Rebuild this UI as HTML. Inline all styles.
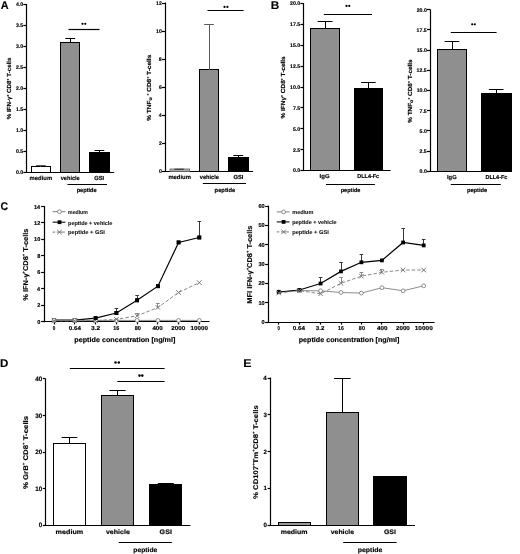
<!DOCTYPE html>
<html><head><meta charset="utf-8"><style>
html,body{margin:0;padding:0;background:#fff;}
svg{display:block;font-family:"Liberation Sans",sans-serif;text-rendering:geometricPrecision;filter:grayscale(1) blur(0.45px);}
text{stroke:#000;stroke-width:0.15px;}
.lg{stroke:#222;stroke-width:0.12px;}
</style></head><body>
<svg width="520" height="554" viewBox="0 0 520 554">
<rect x="0" y="0" width="520" height="554" fill="#fff"/>
<text x="0.83" y="8.80" font-size="11.2" font-weight="bold" fill="#000" textLength="7.87" lengthAdjust="spacingAndGlyphs">A</text>
<line x1="26.50" y1="4.00" x2="26.50" y2="172.50" stroke="#000" stroke-width="1.2" />
<line x1="23.30" y1="172.50" x2="26.50" y2="172.50" stroke="#000" stroke-width="1.2" />
<text x="15.98" y="173.86" font-size="5.2" font-weight="bold" fill="#000" textLength="7.23" lengthAdjust="spacingAndGlyphs">0.0</text>
<line x1="23.30" y1="151.50" x2="26.50" y2="151.50" stroke="#000" stroke-width="1.2" />
<text x="15.90" y="152.92" font-size="5.2" font-weight="bold" fill="#000" textLength="7.23" lengthAdjust="spacingAndGlyphs">0.5</text>
<line x1="23.30" y1="130.50" x2="26.50" y2="130.50" stroke="#000" stroke-width="1.2" />
<text x="15.98" y="131.99" font-size="5.2" font-weight="bold" fill="#000" textLength="7.23" lengthAdjust="spacingAndGlyphs">1.0</text>
<line x1="23.30" y1="109.50" x2="26.50" y2="109.50" stroke="#000" stroke-width="1.2" />
<text x="15.90" y="111.05" font-size="5.2" font-weight="bold" fill="#000" textLength="7.23" lengthAdjust="spacingAndGlyphs">1.5</text>
<line x1="23.30" y1="88.50" x2="26.50" y2="88.50" stroke="#000" stroke-width="1.2" />
<text x="15.98" y="90.11" font-size="5.2" font-weight="bold" fill="#000" textLength="7.23" lengthAdjust="spacingAndGlyphs">2.0</text>
<line x1="23.30" y1="67.50" x2="26.50" y2="67.50" stroke="#000" stroke-width="1.2" />
<text x="15.90" y="69.17" font-size="5.2" font-weight="bold" fill="#000" textLength="7.23" lengthAdjust="spacingAndGlyphs">2.5</text>
<line x1="23.30" y1="46.50" x2="26.50" y2="46.50" stroke="#000" stroke-width="1.2" />
<text x="15.98" y="48.24" font-size="5.2" font-weight="bold" fill="#000" textLength="7.23" lengthAdjust="spacingAndGlyphs">3.0</text>
<line x1="23.30" y1="25.50" x2="26.50" y2="25.50" stroke="#000" stroke-width="1.2" />
<text x="15.90" y="27.30" font-size="5.2" font-weight="bold" fill="#000" textLength="7.23" lengthAdjust="spacingAndGlyphs">3.5</text>
<line x1="23.30" y1="4.50" x2="26.50" y2="4.50" stroke="#000" stroke-width="1.2" />
<text x="15.98" y="6.36" font-size="5.2" font-weight="bold" fill="#000" textLength="7.23" lengthAdjust="spacingAndGlyphs">4.0</text>
<line x1="24.10" y1="172.50" x2="114.20" y2="172.50" stroke="#000" stroke-width="1.2" />
<rect x="31.50" y="166.50" width="19.00" height="6.00" fill="#fff" stroke="#000" stroke-width="1.0"/>
<line x1="40.50" y1="165.00" x2="40.50" y2="166.80" stroke="#555" stroke-width="1.0" />
<line x1="36.15" y1="165.50" x2="45.65" y2="165.50" stroke="#555" stroke-width="1.0" />
<rect x="60.50" y="42.50" width="19.00" height="130.00" fill="#8f8f8f" stroke="#000" stroke-width="1.0"/>
<line x1="70.50" y1="38.20" x2="70.50" y2="42.40" stroke="#000" stroke-width="1.0" />
<line x1="65.30" y1="38.50" x2="75.10" y2="38.50" stroke="#000" stroke-width="1.0" />
<rect x="89.50" y="152.50" width="20.00" height="20.00" fill="#000" stroke="#000" stroke-width="1.0"/>
<line x1="99.50" y1="150.00" x2="99.50" y2="152.40" stroke="#000" stroke-width="1.0" />
<line x1="94.50" y1="150.50" x2="104.30" y2="150.50" stroke="#000" stroke-width="1.0" />
<line x1="68.50" y1="29.50" x2="99.50" y2="29.50" stroke="#000" stroke-width="1.2" />
<ellipse cx="82.50" cy="23.80" rx="1.10" ry="1.16" fill="#000"/>
<ellipse cx="85.30" cy="23.80" rx="1.10" ry="1.16" fill="#000"/>
<text x="29.62" y="179.60" font-size="5.9" font-weight="bold" fill="#000" textLength="22.56" lengthAdjust="spacingAndGlyphs">medium</text>
<text x="60.77" y="179.60" font-size="5.9" font-weight="bold" fill="#000" textLength="18.93" lengthAdjust="spacingAndGlyphs">vehicle</text>
<text x="94.27" y="179.60" font-size="5.9" font-weight="bold" fill="#000" textLength="9.92" lengthAdjust="spacingAndGlyphs">GSI</text>
<line x1="67.50" y1="184.50" x2="107.00" y2="184.50" stroke="#000" stroke-width="1.2" />
<text x="76.63" y="191.60" font-size="5.9" font-weight="bold" fill="#000" textLength="20.07" lengthAdjust="spacingAndGlyphs">peptide</text>
<text x="0" y="0" font-size="5.9" text-anchor="middle" font-weight="bold" textLength="61.90" lengthAdjust="spacingAndGlyphs" transform="translate(11.20,88.40) rotate(-90)">% IFN-γ<tspan baseline-shift="2.48" font-size="3.25">+</tspan> CD8<tspan baseline-shift="2.48" font-size="3.25">+</tspan> T-cells</text>
<line x1="165.50" y1="2.60" x2="165.50" y2="171.80" stroke="#000" stroke-width="1.2" />
<line x1="162.00" y1="171.50" x2="165.00" y2="171.50" stroke="#000" stroke-width="1.2" />
<text x="158.92" y="173.16" font-size="5.2" font-weight="bold" fill="#000" textLength="2.89" lengthAdjust="spacingAndGlyphs">0</text>
<line x1="162.00" y1="143.50" x2="165.00" y2="143.50" stroke="#000" stroke-width="1.2" />
<text x="158.92" y="145.13" font-size="5.2" font-weight="bold" fill="#000" textLength="2.89" lengthAdjust="spacingAndGlyphs">2</text>
<line x1="162.00" y1="115.50" x2="165.00" y2="115.50" stroke="#000" stroke-width="1.2" />
<text x="158.74" y="117.09" font-size="5.2" font-weight="bold" fill="#000" textLength="2.89" lengthAdjust="spacingAndGlyphs">4</text>
<line x1="162.00" y1="87.50" x2="165.00" y2="87.50" stroke="#000" stroke-width="1.2" />
<text x="158.90" y="89.06" font-size="5.2" font-weight="bold" fill="#000" textLength="2.89" lengthAdjust="spacingAndGlyphs">6</text>
<line x1="162.00" y1="59.50" x2="165.00" y2="59.50" stroke="#000" stroke-width="1.2" />
<text x="158.87" y="61.03" font-size="5.2" font-weight="bold" fill="#000" textLength="2.89" lengthAdjust="spacingAndGlyphs">8</text>
<line x1="162.00" y1="31.50" x2="165.00" y2="31.50" stroke="#000" stroke-width="1.2" />
<text x="156.04" y="32.99" font-size="5.2" font-weight="bold" fill="#000" textLength="5.78" lengthAdjust="spacingAndGlyphs">10</text>
<line x1="162.00" y1="3.50" x2="165.00" y2="3.50" stroke="#000" stroke-width="1.2" />
<text x="156.04" y="4.96" font-size="5.2" font-weight="bold" fill="#000" textLength="5.78" lengthAdjust="spacingAndGlyphs">12</text>
<line x1="162.60" y1="171.50" x2="253.10" y2="171.50" stroke="#000" stroke-width="1.2" />
<rect x="170.0" y="169.0" width="19.6" height="2.6" fill="#aaa" stroke="#666" stroke-width="0.8"/>
<line x1="174.6" y1="169.2" x2="183.8" y2="169.2" stroke="#222" stroke-width="1"/>
<rect x="199.50" y="69.50" width="19.00" height="102.00" fill="#8f8f8f" stroke="#000" stroke-width="1.0"/>
<line x1="209.50" y1="24.90" x2="209.50" y2="69.80" stroke="#5a5a5a" stroke-width="1.0" />
<line x1="204.20" y1="24.50" x2="213.80" y2="24.50" stroke="#5a5a5a" stroke-width="1.0" />
<rect x="228.50" y="157.50" width="20.00" height="14.00" fill="#000" stroke="#000" stroke-width="1.0"/>
<line x1="238.50" y1="155.70" x2="238.50" y2="157.90" stroke="#000" stroke-width="1.0" />
<line x1="233.40" y1="155.50" x2="243.20" y2="155.50" stroke="#000" stroke-width="1.0" />
<line x1="207.50" y1="10.50" x2="243.60" y2="10.50" stroke="#000" stroke-width="1.2" />
<ellipse cx="224.50" cy="6.90" rx="1.10" ry="1.16" fill="#000"/>
<ellipse cx="227.40" cy="6.90" rx="1.10" ry="1.16" fill="#000"/>
<text x="168.42" y="179.30" font-size="5.9" font-weight="bold" fill="#000" textLength="22.46" lengthAdjust="spacingAndGlyphs">medium</text>
<text x="199.77" y="179.30" font-size="5.9" font-weight="bold" fill="#000" textLength="19.13" lengthAdjust="spacingAndGlyphs">vehicle</text>
<text x="233.47" y="179.30" font-size="5.9" font-weight="bold" fill="#000" textLength="10.03" lengthAdjust="spacingAndGlyphs">GSI</text>
<line x1="202.80" y1="183.50" x2="246.00" y2="183.50" stroke="#000" stroke-width="1.2" />
<text x="214.62" y="191.50" font-size="5.9" font-weight="bold" fill="#000" textLength="20.58" lengthAdjust="spacingAndGlyphs">peptide</text>
<text x="0" y="0" font-size="5.9" text-anchor="middle" font-weight="bold" textLength="66.00" lengthAdjust="spacingAndGlyphs" transform="translate(151.20,87.75) rotate(-90)">% TNF<tspan font-size="4.72" baseline-shift="-0.8">α</tspan> <tspan baseline-shift="2.48" font-size="3.25">+</tspan> CD8<tspan baseline-shift="2.48" font-size="3.25">+</tspan> T-cells</text>
<text x="270.73" y="8.90" font-size="11.2" font-weight="bold" fill="#000" textLength="8.52" lengthAdjust="spacingAndGlyphs">B</text>
<line x1="303.50" y1="3.00" x2="303.50" y2="171.10" stroke="#000" stroke-width="1.2" />
<line x1="300.40" y1="170.50" x2="303.40" y2="170.50" stroke="#000" stroke-width="1.2" />
<text x="292.98" y="172.46" font-size="5.2" font-weight="bold" fill="#000" textLength="7.23" lengthAdjust="spacingAndGlyphs">0.0</text>
<line x1="300.40" y1="149.50" x2="303.40" y2="149.50" stroke="#000" stroke-width="1.2" />
<text x="292.90" y="151.57" font-size="5.2" font-weight="bold" fill="#000" textLength="7.23" lengthAdjust="spacingAndGlyphs">2.5</text>
<line x1="300.40" y1="128.50" x2="303.40" y2="128.50" stroke="#000" stroke-width="1.2" />
<text x="292.98" y="130.69" font-size="5.2" font-weight="bold" fill="#000" textLength="7.23" lengthAdjust="spacingAndGlyphs">5.0</text>
<line x1="300.40" y1="107.50" x2="303.40" y2="107.50" stroke="#000" stroke-width="1.2" />
<text x="292.90" y="109.80" font-size="5.2" font-weight="bold" fill="#000" textLength="7.23" lengthAdjust="spacingAndGlyphs">7.5</text>
<line x1="300.40" y1="87.50" x2="303.40" y2="87.50" stroke="#000" stroke-width="1.2" />
<text x="290.09" y="88.91" font-size="5.2" font-weight="bold" fill="#000" textLength="10.12" lengthAdjust="spacingAndGlyphs">10.0</text>
<line x1="300.40" y1="66.50" x2="303.40" y2="66.50" stroke="#000" stroke-width="1.2" />
<text x="290.02" y="68.02" font-size="5.2" font-weight="bold" fill="#000" textLength="10.12" lengthAdjust="spacingAndGlyphs">12.5</text>
<line x1="300.40" y1="45.50" x2="303.40" y2="45.50" stroke="#000" stroke-width="1.2" />
<text x="290.09" y="47.14" font-size="5.2" font-weight="bold" fill="#000" textLength="10.12" lengthAdjust="spacingAndGlyphs">15.0</text>
<line x1="300.40" y1="24.50" x2="303.40" y2="24.50" stroke="#000" stroke-width="1.2" />
<text x="290.02" y="26.25" font-size="5.2" font-weight="bold" fill="#000" textLength="10.12" lengthAdjust="spacingAndGlyphs">17.5</text>
<line x1="300.40" y1="3.50" x2="303.40" y2="3.50" stroke="#000" stroke-width="1.2" />
<text x="290.09" y="5.36" font-size="5.2" font-weight="bold" fill="#000" textLength="10.12" lengthAdjust="spacingAndGlyphs">20.0</text>
<line x1="301.20" y1="170.50" x2="390.60" y2="170.50" stroke="#000" stroke-width="1.2" />
<rect x="310.50" y="28.50" width="29.00" height="142.00" fill="#8f8f8f" stroke="#000" stroke-width="1.0"/>
<line x1="325.50" y1="21.30" x2="325.50" y2="28.40" stroke="#000" stroke-width="1.0" />
<line x1="317.70" y1="21.50" x2="332.50" y2="21.50" stroke="#000" stroke-width="1.0" />
<rect x="354.50" y="88.50" width="28.00" height="82.00" fill="#000" stroke="#000" stroke-width="1.0"/>
<line x1="368.50" y1="82.20" x2="368.50" y2="88.40" stroke="#000" stroke-width="1.0" />
<line x1="361.10" y1="82.50" x2="375.70" y2="82.50" stroke="#000" stroke-width="1.0" />
<line x1="323.80" y1="14.50" x2="372.00" y2="14.50" stroke="#000" stroke-width="1.2" />
<ellipse cx="346.50" cy="5.90" rx="1.10" ry="1.16" fill="#000"/>
<ellipse cx="349.25" cy="5.90" rx="1.10" ry="1.16" fill="#000"/>
<text x="319.61" y="178.40" font-size="5.8" font-weight="bold" fill="#000" textLength="9.96" lengthAdjust="spacingAndGlyphs">IgG</text>
<text x="357.35" y="178.40" font-size="5.8" font-weight="bold" fill="#000" textLength="21.82" lengthAdjust="spacingAndGlyphs">DLL4-Fc</text>
<line x1="326.00" y1="184.50" x2="374.90" y2="184.50" stroke="#000" stroke-width="1.2" />
<text x="340.74" y="191.90" font-size="5.7" font-weight="bold" fill="#000" textLength="19.66" lengthAdjust="spacingAndGlyphs">peptide</text>
<text x="0" y="0" font-size="5.9" text-anchor="middle" font-weight="bold" textLength="62.10" lengthAdjust="spacingAndGlyphs" transform="translate(285.20,87.40) rotate(-90)">% IFNγ<tspan baseline-shift="2.48" font-size="3.25">+</tspan> CD8<tspan baseline-shift="2.48" font-size="3.25">+</tspan> T-cells</text>
<line x1="430.50" y1="9.30" x2="430.50" y2="171.70" stroke="#000" stroke-width="1.2" />
<line x1="427.00" y1="171.50" x2="430.00" y2="171.50" stroke="#000" stroke-width="1.2" />
<text x="419.58" y="173.06" font-size="5.2" font-weight="bold" fill="#000" textLength="7.23" lengthAdjust="spacingAndGlyphs">0.0</text>
<line x1="427.00" y1="151.50" x2="430.00" y2="151.50" stroke="#000" stroke-width="1.2" />
<text x="419.50" y="152.89" font-size="5.2" font-weight="bold" fill="#000" textLength="7.23" lengthAdjust="spacingAndGlyphs">2.5</text>
<line x1="427.00" y1="130.50" x2="430.00" y2="130.50" stroke="#000" stroke-width="1.2" />
<text x="419.58" y="132.71" font-size="5.2" font-weight="bold" fill="#000" textLength="7.23" lengthAdjust="spacingAndGlyphs">5.0</text>
<line x1="427.00" y1="110.50" x2="430.00" y2="110.50" stroke="#000" stroke-width="1.2" />
<text x="419.50" y="112.54" font-size="5.2" font-weight="bold" fill="#000" textLength="7.23" lengthAdjust="spacingAndGlyphs">7.5</text>
<line x1="427.00" y1="90.50" x2="430.00" y2="90.50" stroke="#000" stroke-width="1.2" />
<text x="416.69" y="92.36" font-size="5.2" font-weight="bold" fill="#000" textLength="10.12" lengthAdjust="spacingAndGlyphs">10.0</text>
<line x1="427.00" y1="70.50" x2="430.00" y2="70.50" stroke="#000" stroke-width="1.2" />
<text x="416.62" y="72.19" font-size="5.2" font-weight="bold" fill="#000" textLength="10.12" lengthAdjust="spacingAndGlyphs">12.5</text>
<line x1="427.00" y1="50.50" x2="430.00" y2="50.50" stroke="#000" stroke-width="1.2" />
<text x="416.69" y="52.01" font-size="5.2" font-weight="bold" fill="#000" textLength="10.12" lengthAdjust="spacingAndGlyphs">15.0</text>
<line x1="427.00" y1="29.50" x2="430.00" y2="29.50" stroke="#000" stroke-width="1.2" />
<text x="416.62" y="31.84" font-size="5.2" font-weight="bold" fill="#000" textLength="10.12" lengthAdjust="spacingAndGlyphs">17.5</text>
<line x1="427.00" y1="9.50" x2="430.00" y2="9.50" stroke="#000" stroke-width="1.2" />
<text x="416.69" y="11.66" font-size="5.2" font-weight="bold" fill="#000" textLength="10.12" lengthAdjust="spacingAndGlyphs">20.0</text>
<line x1="427.70" y1="171.50" x2="512.00" y2="171.50" stroke="#000" stroke-width="1.2" />
<rect x="437.50" y="49.50" width="29.00" height="122.00" fill="#8f8f8f" stroke="#000" stroke-width="1.0"/>
<line x1="452.50" y1="41.50" x2="452.50" y2="49.70" stroke="#000" stroke-width="1.0" />
<line x1="444.65" y1="41.50" x2="459.35" y2="41.50" stroke="#000" stroke-width="1.0" />
<rect x="481.50" y="93.50" width="30.00" height="78.00" fill="#000" stroke="#000" stroke-width="1.0"/>
<line x1="496.50" y1="89.30" x2="496.50" y2="93.30" stroke="#000" stroke-width="1.0" />
<line x1="488.85" y1="89.50" x2="503.55" y2="89.50" stroke="#000" stroke-width="1.0" />
<line x1="450.80" y1="32.50" x2="496.60" y2="32.50" stroke="#000" stroke-width="1.2" />
<ellipse cx="472.20" cy="24.30" rx="1.10" ry="1.16" fill="#000"/>
<ellipse cx="474.80" cy="24.30" rx="1.10" ry="1.16" fill="#000"/>
<text x="447.02" y="178.80" font-size="5.8" font-weight="bold" fill="#000" textLength="9.63" lengthAdjust="spacingAndGlyphs">IgG</text>
<text x="485.44" y="178.80" font-size="5.8" font-weight="bold" fill="#000" textLength="21.92" lengthAdjust="spacingAndGlyphs">DLL4-Fc</text>
<line x1="450.80" y1="184.50" x2="500.80" y2="184.50" stroke="#000" stroke-width="1.2" />
<text x="466.93" y="192.20" font-size="5.7" font-weight="bold" fill="#000" textLength="20.27" lengthAdjust="spacingAndGlyphs">peptide</text>
<text x="0" y="0" font-size="5.9" text-anchor="middle" font-weight="bold" textLength="63.50" lengthAdjust="spacingAndGlyphs" transform="translate(412.40,91.05) rotate(-90)">% TNF<tspan font-size="4.72" baseline-shift="-0.8">α</tspan><tspan baseline-shift="2.48" font-size="3.25">+</tspan> CD8<tspan baseline-shift="2.48" font-size="3.25">+</tspan> T-cells</text>
<text x="0.58" y="210.40" font-size="11.2" font-weight="bold" fill="#000" textLength="7.61" lengthAdjust="spacingAndGlyphs">C</text>
<line x1="44.50" y1="206.00" x2="44.50" y2="322.30" stroke="#000" stroke-width="1.2" />
<line x1="41.10" y1="321.50" x2="44.30" y2="321.50" stroke="#000" stroke-width="1.2" />
<text x="37.22" y="323.80" font-size="5.6" font-weight="bold" fill="#000" textLength="3.11" lengthAdjust="spacingAndGlyphs">0</text>
<line x1="41.10" y1="305.50" x2="44.30" y2="305.50" stroke="#000" stroke-width="1.2" />
<text x="37.22" y="307.33" font-size="5.6" font-weight="bold" fill="#000" textLength="3.11" lengthAdjust="spacingAndGlyphs">2</text>
<line x1="41.10" y1="288.50" x2="44.30" y2="288.50" stroke="#000" stroke-width="1.2" />
<text x="37.02" y="290.86" font-size="5.6" font-weight="bold" fill="#000" textLength="3.11" lengthAdjust="spacingAndGlyphs">4</text>
<line x1="41.10" y1="272.50" x2="44.30" y2="272.50" stroke="#000" stroke-width="1.2" />
<text x="37.19" y="274.39" font-size="5.6" font-weight="bold" fill="#000" textLength="3.11" lengthAdjust="spacingAndGlyphs">6</text>
<line x1="41.10" y1="255.50" x2="44.30" y2="255.50" stroke="#000" stroke-width="1.2" />
<text x="37.16" y="257.92" font-size="5.6" font-weight="bold" fill="#000" textLength="3.11" lengthAdjust="spacingAndGlyphs">8</text>
<line x1="41.10" y1="239.50" x2="44.30" y2="239.50" stroke="#000" stroke-width="1.2" />
<text x="34.11" y="241.45" font-size="5.6" font-weight="bold" fill="#000" textLength="6.23" lengthAdjust="spacingAndGlyphs">10</text>
<line x1="41.10" y1="222.50" x2="44.30" y2="222.50" stroke="#000" stroke-width="1.2" />
<text x="34.11" y="224.98" font-size="5.6" font-weight="bold" fill="#000" textLength="6.23" lengthAdjust="spacingAndGlyphs">12</text>
<line x1="41.10" y1="206.50" x2="44.30" y2="206.50" stroke="#000" stroke-width="1.2" />
<text x="33.91" y="208.50" font-size="5.6" font-weight="bold" fill="#000" textLength="6.23" lengthAdjust="spacingAndGlyphs">14</text>
<line x1="42.00" y1="321.50" x2="209.50" y2="321.50" stroke="#000" stroke-width="1.2" />
<line x1="54.50" y1="321.80" x2="54.50" y2="324.40" stroke="#000" stroke-width="1.2" />
<line x1="74.50" y1="321.80" x2="74.50" y2="324.40" stroke="#000" stroke-width="1.2" />
<line x1="95.50" y1="321.80" x2="95.50" y2="324.40" stroke="#000" stroke-width="1.2" />
<line x1="116.50" y1="321.80" x2="116.50" y2="324.40" stroke="#000" stroke-width="1.2" />
<line x1="137.50" y1="321.80" x2="137.50" y2="324.40" stroke="#000" stroke-width="1.2" />
<line x1="157.50" y1="321.80" x2="157.50" y2="324.40" stroke="#000" stroke-width="1.2" />
<line x1="178.50" y1="321.80" x2="178.50" y2="324.40" stroke="#000" stroke-width="1.2" />
<line x1="199.50" y1="321.80" x2="199.50" y2="324.40" stroke="#000" stroke-width="1.2" />
<text x="52.71" y="330.40" font-size="5.8" font-weight="bold" fill="#000" textLength="2.58" lengthAdjust="spacingAndGlyphs">0</text>
<text x="68.85" y="330.40" font-size="5.8" font-weight="bold" fill="#000" textLength="11.99" lengthAdjust="spacingAndGlyphs">0.64</text>
<text x="90.93" y="330.40" font-size="5.8" font-weight="bold" fill="#000" textLength="9.34" lengthAdjust="spacingAndGlyphs">3.2</text>
<text x="113.35" y="330.40" font-size="5.8" font-weight="bold" fill="#000" textLength="6.06" lengthAdjust="spacingAndGlyphs">16</text>
<text x="134.63" y="330.40" font-size="5.8" font-weight="bold" fill="#000" textLength="6.20" lengthAdjust="spacingAndGlyphs">80</text>
<text x="152.41" y="330.40" font-size="5.8" font-weight="bold" fill="#000" textLength="10.26" lengthAdjust="spacingAndGlyphs">400</text>
<text x="171.38" y="330.40" font-size="5.8" font-weight="bold" fill="#000" textLength="13.97" lengthAdjust="spacingAndGlyphs">2000</text>
<text x="190.59" y="330.40" font-size="5.8" font-weight="bold" fill="#000" textLength="17.36" lengthAdjust="spacingAndGlyphs">10000</text>
<text x="74.33" y="342.00" font-size="6.9" font-weight="bold" fill="#000" textLength="101.07" lengthAdjust="spacingAndGlyphs">peptide concentration [ng/ml]</text>
<text x="0" y="0" font-size="7.0" text-anchor="middle" font-weight="bold" textLength="72.20" lengthAdjust="spacingAndGlyphs" transform="translate(28.10,264.60) rotate(-90)">% IFN-γ<tspan baseline-shift="2.94" font-size="3.85">+</tspan>CD8<tspan baseline-shift="2.94" font-size="3.85">+</tspan> T-cells</text>
<polyline points="54.00,320.20 74.80,320.20 95.60,318.10 116.40,313.00 137.10,300.30 157.90,286.20 178.60,242.40 199.30,237.50" fill="none" stroke="#000" stroke-width="1.2" />
<line x1="116.50" y1="308.80" x2="116.50" y2="313.00" stroke="#222" stroke-width="0.9" />
<line x1="114.60" y1="308.50" x2="118.20" y2="308.50" stroke="#222" stroke-width="0.9" />
<line x1="137.50" y1="295.80" x2="137.50" y2="300.30" stroke="#222" stroke-width="0.9" />
<line x1="135.30" y1="295.50" x2="138.90" y2="295.50" stroke="#222" stroke-width="0.9" />
<line x1="199.50" y1="221.30" x2="199.50" y2="237.50" stroke="#222" stroke-width="0.9" />
<line x1="197.50" y1="221.50" x2="201.10" y2="221.50" stroke="#222" stroke-width="0.9" />
<rect x="52.10" y="318.30" width="3.8" height="3.8" fill="#000"/>
<rect x="72.90" y="318.30" width="3.8" height="3.8" fill="#000"/>
<rect x="93.70" y="316.20" width="3.8" height="3.8" fill="#000"/>
<rect x="114.50" y="311.10" width="3.8" height="3.8" fill="#000"/>
<rect x="135.20" y="298.40" width="3.8" height="3.8" fill="#000"/>
<rect x="156.00" y="284.30" width="3.8" height="3.8" fill="#000"/>
<rect x="176.70" y="240.50" width="3.8" height="3.8" fill="#000"/>
<rect x="197.40" y="235.60" width="3.8" height="3.8" fill="#000"/>
<polyline points="54.00,320.40 74.80,320.40 95.60,320.40 116.40,320.40 137.10,320.40 157.90,320.40 178.60,320.40 199.30,320.40" fill="none" stroke="#808080" stroke-width="0.9" />
<circle cx="54.00" cy="320.40" r="1.9" fill="#fff" stroke="#808080" stroke-width="0.9"/>
<circle cx="74.80" cy="320.40" r="1.9" fill="#fff" stroke="#808080" stroke-width="0.9"/>
<circle cx="95.60" cy="320.40" r="1.9" fill="#fff" stroke="#808080" stroke-width="0.9"/>
<circle cx="116.40" cy="320.40" r="1.9" fill="#fff" stroke="#808080" stroke-width="0.9"/>
<circle cx="137.10" cy="320.40" r="1.9" fill="#fff" stroke="#808080" stroke-width="0.9"/>
<circle cx="157.90" cy="320.40" r="1.9" fill="#fff" stroke="#808080" stroke-width="0.9"/>
<circle cx="178.60" cy="320.40" r="1.9" fill="#fff" stroke="#808080" stroke-width="0.9"/>
<circle cx="199.30" cy="320.40" r="1.9" fill="#fff" stroke="#808080" stroke-width="0.9"/>
<polyline points="54.00,320.80 74.80,320.80 95.60,320.60 116.40,319.40 137.10,315.80 157.90,307.50 178.60,292.50 199.30,282.60" fill="none" stroke="#7a7a7a" stroke-width="0.9" stroke-dasharray="3.5,2"/>
<line x1="137.50" y1="313.80" x2="137.50" y2="315.80" stroke="#7a7a7a" stroke-width="0.9" />
<line x1="135.30" y1="313.50" x2="138.90" y2="313.50" stroke="#7a7a7a" stroke-width="0.9" />
<line x1="157.50" y1="303.80" x2="157.50" y2="307.50" stroke="#7a7a7a" stroke-width="0.9" />
<line x1="156.10" y1="303.50" x2="159.70" y2="303.50" stroke="#7a7a7a" stroke-width="0.9" />
<path d="M51.70 318.50L56.30 323.10M51.70 323.10L56.30 318.50" stroke="#7a7a7a" stroke-width="1.0" fill="none"/>
<path d="M72.50 318.50L77.10 323.10M72.50 323.10L77.10 318.50" stroke="#7a7a7a" stroke-width="1.0" fill="none"/>
<path d="M93.30 318.30L97.90 322.90M93.30 322.90L97.90 318.30" stroke="#7a7a7a" stroke-width="1.0" fill="none"/>
<path d="M114.10 317.10L118.70 321.70M114.10 321.70L118.70 317.10" stroke="#7a7a7a" stroke-width="1.0" fill="none"/>
<path d="M134.80 313.50L139.40 318.10M134.80 318.10L139.40 313.50" stroke="#7a7a7a" stroke-width="1.0" fill="none"/>
<path d="M155.60 305.20L160.20 309.80M155.60 309.80L160.20 305.20" stroke="#7a7a7a" stroke-width="1.0" fill="none"/>
<path d="M176.30 290.20L180.90 294.80M176.30 294.80L180.90 290.20" stroke="#7a7a7a" stroke-width="1.0" fill="none"/>
<path d="M197.00 280.30L201.60 284.90M197.00 284.90L201.60 280.30" stroke="#7a7a7a" stroke-width="1.0" fill="none"/>
<rect x="93.70" y="316.20" width="3.8" height="3.8" fill="#000"/>
<rect x="114.50" y="311.10" width="3.8" height="3.8" fill="#000"/>
<rect x="135.20" y="298.40" width="3.8" height="3.8" fill="#000"/>
<rect x="156.00" y="284.30" width="3.8" height="3.8" fill="#000"/>
<rect x="176.70" y="240.50" width="3.8" height="3.8" fill="#000"/>
<rect x="197.40" y="235.60" width="3.8" height="3.8" fill="#000"/>
<line x1="52.60" y1="211.70" x2="65.40" y2="211.70" stroke="#808080" stroke-width="1"/>
<circle cx="59.50" cy="211.70" r="1.9" fill="#fff" stroke="#808080" stroke-width="0.9"/>
<line x1="52.60" y1="222.20" x2="65.40" y2="222.20" stroke="#222" stroke-width="1.2"/>
<rect x="57.60" y="220.30" width="3.8" height="3.8" fill="#000"/>
<line x1="52.60" y1="232.10" x2="65.40" y2="232.10" stroke="#7a7a7a" stroke-width="1" stroke-dasharray="2.6,1.6,8,1.6,3"/>
<path d="M57.20 229.80L61.80 234.40M57.20 234.40L61.80 229.80" stroke="#7a7a7a" stroke-width="1.0" fill="none"/>
<text class="lg" x="68.06" y="213.70" font-size="5.5" font-weight="bold" fill="#222" textLength="19.76" lengthAdjust="spacingAndGlyphs">medium</text>
<text class="lg" x="68.04" y="224.50" font-size="5.5" font-weight="bold" fill="#222" textLength="44.36" lengthAdjust="spacingAndGlyphs">peptide + vehicle</text>
<text class="lg" x="68.03" y="234.40" font-size="5.5" font-weight="bold" fill="#222" textLength="36.86" lengthAdjust="spacingAndGlyphs">peptide + GSI</text>
<line x1="268.50" y1="205.60" x2="268.50" y2="322.50" stroke="#000" stroke-width="1.2" />
<line x1="265.10" y1="322.50" x2="268.10" y2="322.50" stroke="#000" stroke-width="1.2" />
<text x="261.52" y="324.00" font-size="5.6" font-weight="bold" fill="#000" textLength="3.11" lengthAdjust="spacingAndGlyphs">0</text>
<line x1="265.10" y1="302.50" x2="268.10" y2="302.50" stroke="#000" stroke-width="1.2" />
<text x="258.41" y="304.69" font-size="5.6" font-weight="bold" fill="#000" textLength="6.23" lengthAdjust="spacingAndGlyphs">10</text>
<line x1="265.10" y1="283.50" x2="268.10" y2="283.50" stroke="#000" stroke-width="1.2" />
<text x="258.41" y="285.37" font-size="5.6" font-weight="bold" fill="#000" textLength="6.23" lengthAdjust="spacingAndGlyphs">20</text>
<line x1="265.10" y1="264.50" x2="268.10" y2="264.50" stroke="#000" stroke-width="1.2" />
<text x="258.41" y="266.05" font-size="5.6" font-weight="bold" fill="#000" textLength="6.23" lengthAdjust="spacingAndGlyphs">30</text>
<line x1="265.10" y1="244.50" x2="268.10" y2="244.50" stroke="#000" stroke-width="1.2" />
<text x="258.41" y="246.74" font-size="5.6" font-weight="bold" fill="#000" textLength="6.23" lengthAdjust="spacingAndGlyphs">40</text>
<line x1="265.10" y1="225.50" x2="268.10" y2="225.50" stroke="#000" stroke-width="1.2" />
<text x="258.41" y="227.42" font-size="5.6" font-weight="bold" fill="#000" textLength="6.23" lengthAdjust="spacingAndGlyphs">50</text>
<line x1="265.10" y1="206.50" x2="268.10" y2="206.50" stroke="#000" stroke-width="1.2" />
<text x="258.41" y="208.10" font-size="5.6" font-weight="bold" fill="#000" textLength="6.23" lengthAdjust="spacingAndGlyphs">60</text>
<line x1="265.80" y1="322.50" x2="434.60" y2="322.50" stroke="#000" stroke-width="1.2" />
<line x1="278.50" y1="322.00" x2="278.50" y2="324.60" stroke="#000" stroke-width="1.2" />
<line x1="299.50" y1="322.00" x2="299.50" y2="324.60" stroke="#000" stroke-width="1.2" />
<line x1="320.50" y1="322.00" x2="320.50" y2="324.60" stroke="#000" stroke-width="1.2" />
<line x1="341.50" y1="322.00" x2="341.50" y2="324.60" stroke="#000" stroke-width="1.2" />
<line x1="361.50" y1="322.00" x2="361.50" y2="324.60" stroke="#000" stroke-width="1.2" />
<line x1="381.50" y1="322.00" x2="381.50" y2="324.60" stroke="#000" stroke-width="1.2" />
<line x1="403.50" y1="322.00" x2="403.50" y2="324.60" stroke="#000" stroke-width="1.2" />
<line x1="423.50" y1="322.00" x2="423.50" y2="324.60" stroke="#000" stroke-width="1.2" />
<text x="277.43" y="330.40" font-size="5.8" font-weight="bold" fill="#000" textLength="2.34" lengthAdjust="spacingAndGlyphs">0</text>
<text x="292.75" y="330.40" font-size="5.8" font-weight="bold" fill="#000" textLength="12.19" lengthAdjust="spacingAndGlyphs">0.64</text>
<text x="315.85" y="330.40" font-size="5.8" font-weight="bold" fill="#000" textLength="8.50" lengthAdjust="spacingAndGlyphs">3.2</text>
<text x="338.07" y="330.40" font-size="5.8" font-weight="bold" fill="#000" textLength="5.73" lengthAdjust="spacingAndGlyphs">16</text>
<text x="358.84" y="330.40" font-size="5.8" font-weight="bold" fill="#000" textLength="6.10" lengthAdjust="spacingAndGlyphs">80</text>
<text x="377.11" y="330.40" font-size="5.8" font-weight="bold" fill="#000" textLength="10.47" lengthAdjust="spacingAndGlyphs">400</text>
<text x="395.98" y="330.40" font-size="5.8" font-weight="bold" fill="#000" textLength="13.87" lengthAdjust="spacingAndGlyphs">2000</text>
<text x="414.78" y="330.40" font-size="5.8" font-weight="bold" fill="#000" textLength="17.98" lengthAdjust="spacingAndGlyphs">10000</text>
<text x="298.73" y="342.00" font-size="6.9" font-weight="bold" fill="#000" textLength="100.67" lengthAdjust="spacingAndGlyphs">peptide concentration [ng/ml]</text>
<text x="0" y="0" font-size="7.0" text-anchor="middle" font-weight="bold" textLength="78.20" lengthAdjust="spacingAndGlyphs" transform="translate(252.10,264.60) rotate(-90)">MFI IFN-γ<tspan baseline-shift="2.94" font-size="3.85">+</tspan>CD8<tspan baseline-shift="2.94" font-size="3.85">+</tspan> T-cells</text>
<polyline points="278.80,292.00 299.40,290.60 320.60,290.80 341.00,292.50 361.40,293.10 381.90,287.70 403.10,290.80 423.70,285.80" fill="none" stroke="#808080" stroke-width="0.9" />
<circle cx="278.80" cy="292.00" r="1.9" fill="#fff" stroke="#808080" stroke-width="0.9"/>
<circle cx="299.40" cy="290.60" r="1.9" fill="#fff" stroke="#808080" stroke-width="0.9"/>
<circle cx="320.60" cy="290.80" r="1.9" fill="#fff" stroke="#808080" stroke-width="0.9"/>
<circle cx="341.00" cy="292.50" r="1.9" fill="#fff" stroke="#808080" stroke-width="0.9"/>
<circle cx="361.40" cy="293.10" r="1.9" fill="#fff" stroke="#808080" stroke-width="0.9"/>
<circle cx="381.90" cy="287.70" r="1.9" fill="#fff" stroke="#808080" stroke-width="0.9"/>
<circle cx="403.10" cy="290.80" r="1.9" fill="#fff" stroke="#808080" stroke-width="0.9"/>
<circle cx="423.70" cy="285.80" r="1.9" fill="#fff" stroke="#808080" stroke-width="0.9"/>
<polyline points="278.80,292.00 299.40,290.00 320.60,283.50 341.00,271.40 361.40,262.30 381.90,260.40 403.10,242.50 423.70,245.40" fill="none" stroke="#000" stroke-width="1.2" />
<line x1="320.50" y1="277.70" x2="320.50" y2="283.50" stroke="#222" stroke-width="0.9" />
<line x1="318.80" y1="277.50" x2="322.40" y2="277.50" stroke="#222" stroke-width="0.9" />
<line x1="341.50" y1="262.70" x2="341.50" y2="271.40" stroke="#222" stroke-width="0.9" />
<line x1="339.20" y1="262.50" x2="342.80" y2="262.50" stroke="#222" stroke-width="0.9" />
<line x1="361.50" y1="254.60" x2="361.50" y2="262.30" stroke="#222" stroke-width="0.9" />
<line x1="359.60" y1="254.50" x2="363.20" y2="254.50" stroke="#222" stroke-width="0.9" />
<line x1="403.50" y1="228.70" x2="403.50" y2="242.50" stroke="#222" stroke-width="0.9" />
<line x1="401.30" y1="228.50" x2="404.90" y2="228.50" stroke="#222" stroke-width="0.9" />
<line x1="423.50" y1="239.20" x2="423.50" y2="245.40" stroke="#222" stroke-width="0.9" />
<line x1="421.90" y1="239.50" x2="425.50" y2="239.50" stroke="#222" stroke-width="0.9" />
<rect x="276.90" y="290.10" width="3.8" height="3.8" fill="#000"/>
<rect x="297.50" y="288.10" width="3.8" height="3.8" fill="#000"/>
<rect x="318.70" y="281.60" width="3.8" height="3.8" fill="#000"/>
<rect x="339.10" y="269.50" width="3.8" height="3.8" fill="#000"/>
<rect x="359.50" y="260.40" width="3.8" height="3.8" fill="#000"/>
<rect x="380.00" y="258.50" width="3.8" height="3.8" fill="#000"/>
<rect x="401.20" y="240.60" width="3.8" height="3.8" fill="#000"/>
<rect x="421.80" y="243.50" width="3.8" height="3.8" fill="#000"/>
<polyline points="278.80,293.00 299.40,290.60 320.60,293.80 341.00,283.30 361.40,276.20 381.90,272.30 403.10,270.00 423.70,270.00" fill="none" stroke="#7a7a7a" stroke-width="0.9" stroke-dasharray="3.5,2"/>
<line x1="341.50" y1="277.40" x2="341.50" y2="283.30" stroke="#7a7a7a" stroke-width="0.9" />
<line x1="339.20" y1="277.50" x2="342.80" y2="277.50" stroke="#7a7a7a" stroke-width="0.9" />
<line x1="361.50" y1="272.90" x2="361.50" y2="276.20" stroke="#7a7a7a" stroke-width="0.9" />
<line x1="359.60" y1="272.50" x2="363.20" y2="272.50" stroke="#7a7a7a" stroke-width="0.9" />
<line x1="381.50" y1="269.60" x2="381.50" y2="272.30" stroke="#7a7a7a" stroke-width="0.9" />
<line x1="380.10" y1="269.50" x2="383.70" y2="269.50" stroke="#7a7a7a" stroke-width="0.9" />
<path d="M276.50 290.70L281.10 295.30M276.50 295.30L281.10 290.70" stroke="#7a7a7a" stroke-width="1.0" fill="none"/>
<path d="M297.10 288.30L301.70 292.90M297.10 292.90L301.70 288.30" stroke="#7a7a7a" stroke-width="1.0" fill="none"/>
<path d="M318.30 291.50L322.90 296.10M318.30 296.10L322.90 291.50" stroke="#7a7a7a" stroke-width="1.0" fill="none"/>
<path d="M338.70 281.00L343.30 285.60M338.70 285.60L343.30 281.00" stroke="#7a7a7a" stroke-width="1.0" fill="none"/>
<path d="M359.10 273.90L363.70 278.50M359.10 278.50L363.70 273.90" stroke="#7a7a7a" stroke-width="1.0" fill="none"/>
<path d="M379.60 270.00L384.20 274.60M379.60 274.60L384.20 270.00" stroke="#7a7a7a" stroke-width="1.0" fill="none"/>
<path d="M400.80 267.70L405.40 272.30M400.80 272.30L405.40 267.70" stroke="#7a7a7a" stroke-width="1.0" fill="none"/>
<path d="M421.40 267.70L426.00 272.30M421.40 272.30L426.00 267.70" stroke="#7a7a7a" stroke-width="1.0" fill="none"/>
<line x1="276.70" y1="211.90" x2="289.50" y2="211.90" stroke="#808080" stroke-width="1"/>
<circle cx="283.60" cy="211.90" r="1.9" fill="#fff" stroke="#808080" stroke-width="0.9"/>
<line x1="276.70" y1="221.90" x2="289.50" y2="221.90" stroke="#222" stroke-width="1.2"/>
<rect x="281.70" y="220.00" width="3.8" height="3.8" fill="#000"/>
<line x1="276.70" y1="231.90" x2="289.50" y2="231.90" stroke="#7a7a7a" stroke-width="1" stroke-dasharray="2.6,1.6,8,1.6,3"/>
<path d="M281.30 229.60L285.90 234.20M281.30 234.20L285.90 229.60" stroke="#7a7a7a" stroke-width="1.0" fill="none"/>
<text class="lg" x="292.24" y="213.90" font-size="5.5" font-weight="bold" fill="#222" textLength="21.11" lengthAdjust="spacingAndGlyphs">medium</text>
<text class="lg" x="292.24" y="224.20" font-size="5.5" font-weight="bold" fill="#222" textLength="44.26" lengthAdjust="spacingAndGlyphs">peptide + vehicle</text>
<text class="lg" x="292.23" y="234.20" font-size="5.5" font-weight="bold" fill="#222" textLength="36.56" lengthAdjust="spacingAndGlyphs">peptide + GSI</text>
<text x="-0.05" y="367.40" font-size="11.2" font-weight="bold" fill="#000" textLength="8.34" lengthAdjust="spacingAndGlyphs">D</text>
<line x1="45.50" y1="378.40" x2="45.50" y2="525.70" stroke="#000" stroke-width="1.2" />
<line x1="42.80" y1="525.50" x2="45.40" y2="525.50" stroke="#000" stroke-width="1.2" />
<text x="38.66" y="527.46" font-size="6.3" font-weight="bold" fill="#000" textLength="3.50" lengthAdjust="spacingAndGlyphs">0</text>
<line x1="42.80" y1="488.50" x2="45.40" y2="488.50" stroke="#000" stroke-width="1.2" />
<text x="35.16" y="490.88" font-size="6.3" font-weight="bold" fill="#000" textLength="7.01" lengthAdjust="spacingAndGlyphs">10</text>
<line x1="42.80" y1="452.50" x2="45.40" y2="452.50" stroke="#000" stroke-width="1.2" />
<text x="35.16" y="454.31" font-size="6.3" font-weight="bold" fill="#000" textLength="7.01" lengthAdjust="spacingAndGlyphs">20</text>
<line x1="42.80" y1="415.50" x2="45.40" y2="415.50" stroke="#000" stroke-width="1.2" />
<text x="35.16" y="417.73" font-size="6.3" font-weight="bold" fill="#000" textLength="7.01" lengthAdjust="spacingAndGlyphs">30</text>
<line x1="42.80" y1="378.50" x2="45.40" y2="378.50" stroke="#000" stroke-width="1.2" />
<text x="35.16" y="381.16" font-size="6.3" font-weight="bold" fill="#000" textLength="7.01" lengthAdjust="spacingAndGlyphs">40</text>
<line x1="43.00" y1="525.50" x2="190.40" y2="525.50" stroke="#000" stroke-width="1.2" />
<rect x="53.50" y="443.50" width="32.00" height="82.00" fill="#fff" stroke="#000" stroke-width="1.0"/>
<line x1="69.50" y1="437.60" x2="69.50" y2="443.70" stroke="#000" stroke-width="1.0" />
<line x1="61.70" y1="437.50" x2="77.30" y2="437.50" stroke="#000" stroke-width="1.0" />
<rect x="101.50" y="395.50" width="32.00" height="130.00" fill="#8f8f8f" stroke="#000" stroke-width="1.0"/>
<line x1="117.50" y1="390.90" x2="117.50" y2="395.50" stroke="#000" stroke-width="1.0" />
<line x1="109.40" y1="390.50" x2="125.60" y2="390.50" stroke="#000" stroke-width="1.0" />
<rect x="149.50" y="484.50" width="32.00" height="41.00" fill="#000" stroke="#000" stroke-width="1.0"/>
<line x1="165.50" y1="483.60" x2="165.50" y2="484.30" stroke="#000" stroke-width="1.0" />
<line x1="157.80" y1="483.50" x2="173.80" y2="483.50" stroke="#000" stroke-width="1.0" />
<line x1="69.80" y1="368.50" x2="164.60" y2="368.50" stroke="#000" stroke-width="1.2" />
<ellipse cx="115.50" cy="362.50" rx="1.25" ry="1.31" fill="#000"/>
<ellipse cx="118.80" cy="362.50" rx="1.25" ry="1.31" fill="#000"/>
<line x1="117.30" y1="381.50" x2="164.60" y2="381.50" stroke="#000" stroke-width="1.2" />
<ellipse cx="139.50" cy="375.60" rx="1.25" ry="1.31" fill="#000"/>
<ellipse cx="142.30" cy="375.60" rx="1.25" ry="1.31" fill="#000"/>
<text x="55.63" y="534.40" font-size="6.6" font-weight="bold" fill="#000" textLength="27.53" lengthAdjust="spacingAndGlyphs">medium</text>
<text x="105.96" y="534.40" font-size="6.6" font-weight="bold" fill="#000" textLength="23.89" lengthAdjust="spacingAndGlyphs">vehicle</text>
<text x="159.62" y="534.40" font-size="6.6" font-weight="bold" fill="#000" textLength="12.27" lengthAdjust="spacingAndGlyphs">GSI</text>
<line x1="118.70" y1="542.50" x2="171.80" y2="542.50" stroke="#000" stroke-width="1.2" />
<text x="133.36" y="551.70" font-size="6.3" font-weight="bold" fill="#000" textLength="23.88" lengthAdjust="spacingAndGlyphs">peptide</text>
<text x="0" y="0" font-size="6.8" text-anchor="middle" font-weight="bold" textLength="73.20" lengthAdjust="spacingAndGlyphs" transform="translate(28.00,452.50) rotate(-90)">% GrB<tspan baseline-shift="2.86" font-size="3.74">+</tspan> CD8<tspan baseline-shift="2.86" font-size="3.74">+</tspan> T-cells</text>
<text x="243.19" y="367.40" font-size="11.2" font-weight="bold" fill="#000" textLength="8.26" lengthAdjust="spacingAndGlyphs">E</text>
<line x1="270.50" y1="377.50" x2="270.50" y2="525.50" stroke="#000" stroke-width="1.2" />
<line x1="267.60" y1="525.50" x2="270.40" y2="525.50" stroke="#000" stroke-width="1.2" />
<text x="263.51" y="527.22" font-size="6.2" font-weight="bold" fill="#000" textLength="3.45" lengthAdjust="spacingAndGlyphs">0</text>
<line x1="267.60" y1="488.50" x2="270.40" y2="488.50" stroke="#000" stroke-width="1.2" />
<text x="263.41" y="490.47" font-size="6.2" font-weight="bold" fill="#000" textLength="3.45" lengthAdjust="spacingAndGlyphs">1</text>
<line x1="267.60" y1="451.50" x2="270.40" y2="451.50" stroke="#000" stroke-width="1.2" />
<text x="263.51" y="453.72" font-size="6.2" font-weight="bold" fill="#000" textLength="3.45" lengthAdjust="spacingAndGlyphs">2</text>
<line x1="267.60" y1="414.50" x2="270.40" y2="414.50" stroke="#000" stroke-width="1.2" />
<text x="263.48" y="416.97" font-size="6.2" font-weight="bold" fill="#000" textLength="3.45" lengthAdjust="spacingAndGlyphs">3</text>
<line x1="267.60" y1="378.50" x2="270.40" y2="378.50" stroke="#000" stroke-width="1.2" />
<text x="263.29" y="380.22" font-size="6.2" font-weight="bold" fill="#000" textLength="3.45" lengthAdjust="spacingAndGlyphs">4</text>
<line x1="268.00" y1="525.50" x2="415.00" y2="525.50" stroke="#000" stroke-width="1.2" />
<rect x="278.50" y="522.50" width="32.00" height="3.00" fill="#9a9a9a" stroke="#000" stroke-width="1.0"/>
<rect x="326.50" y="412.50" width="32.00" height="113.00" fill="#8f8f8f" stroke="#000" stroke-width="1.0"/>
<line x1="342.50" y1="378.80" x2="342.50" y2="412.50" stroke="#000" stroke-width="1.0" />
<line x1="334.10" y1="378.50" x2="350.70" y2="378.50" stroke="#000" stroke-width="1.0" />
<rect x="373.50" y="476.50" width="33.00" height="49.00" fill="#000" stroke="#000" stroke-width="1.0"/>
<text x="280.75" y="534.40" font-size="6.6" font-weight="bold" fill="#000" textLength="26.80" lengthAdjust="spacingAndGlyphs">medium</text>
<text x="330.77" y="534.40" font-size="6.6" font-weight="bold" fill="#000" textLength="23.28" lengthAdjust="spacingAndGlyphs">vehicle</text>
<text x="383.92" y="534.40" font-size="6.6" font-weight="bold" fill="#000" textLength="11.95" lengthAdjust="spacingAndGlyphs">GSI</text>
<line x1="343.20" y1="542.50" x2="396.60" y2="542.50" stroke="#000" stroke-width="1.2" />
<text x="357.75" y="551.80" font-size="6.3" font-weight="bold" fill="#000" textLength="24.70" lengthAdjust="spacingAndGlyphs">peptide</text>
<text x="0" y="0" font-size="6.8" text-anchor="middle" font-weight="bold" textLength="93.70" lengthAdjust="spacingAndGlyphs" transform="translate(258.10,452.10) rotate(-90)">% CD107<tspan baseline-shift="2.86" font-size="3.74">+</tspan>Tm<tspan baseline-shift="2.86" font-size="3.74">+</tspan>CD8<tspan baseline-shift="2.86" font-size="3.74">+</tspan> T-cells</text>
</svg>
</body></html>
